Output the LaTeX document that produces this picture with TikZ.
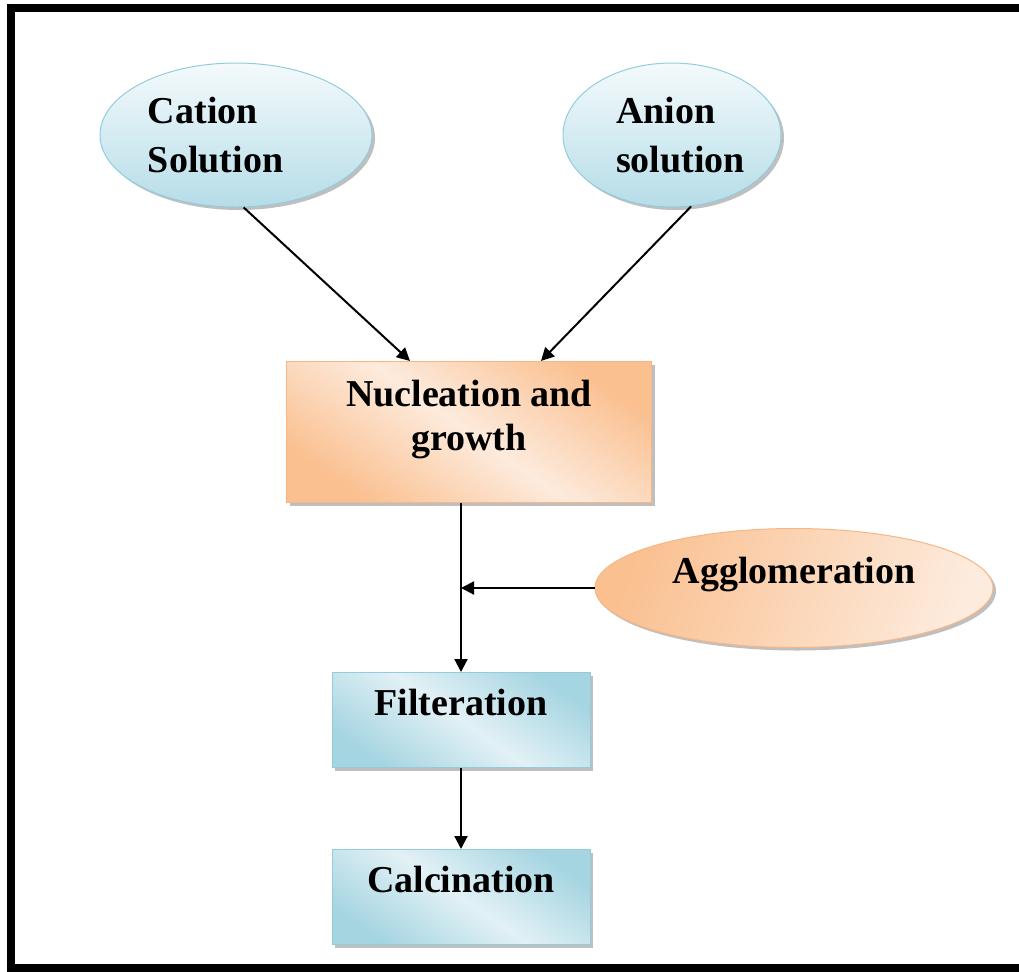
\documentclass[tikz,border=0pt]{standalone}
\usepackage{fontspec}
\setmainfont{Liberation Serif}
\usetikzlibrary{shapes.geometric, arrows.meta, shadows}

\definecolor{blueedge}{HTML}{93CDDD}
\definecolor{bluedark}{HTML}{B6DDE8}
\definecolor{bluelight}{HTML}{F4FAFC}
\definecolor{boxblue}{HTML}{A6D5E2}
\definecolor{boxbluelight}{HTML}{E2F1F5}
\definecolor{orangedark}{HTML}{FAC090}
\definecolor{orangelight}{HTML}{FDEBDD}
\definecolor{orangeedge}{HTML}{F6B685}

\tikzset{
    txt/.style={font=\bfseries\fontsize{19}{24.5}\selectfont, text=black},
    boxshadow/.style={drop shadow={shadow xshift=1.5pt, shadow yshift=-1.5pt, fill=black!45, opacity=.55}},
    solnode/.style={ellipse, draw=blueedge, line width=.5pt, top color=bluelight, bottom color=bluedark,
        inner sep=0pt, minimum height=72pt, align=left, txt, boxshadow},
    procbox/.style={rectangle, draw=blueedge, line width=.5pt, top color=boxblue, bottom color=boxblue,
        middle color=boxbluelight, shading angle=-35, minimum width=129pt, minimum height=47.5pt,
        txt, text height=13pt, text depth=18pt, boxshadow},
    growbox/.style={rectangle, draw=orangeedge, line width=.5pt, top color=orangedark, bottom color=orangedark,
        middle color=orangelight, shading angle=-35, minimum width=182.5pt, minimum height=70.5pt,
        align=center, txt, font=\bfseries\fontsize{19}{22}\selectfont, text depth=17pt, boxshadow},
    agglnode/.style={ellipse, draw=orangeedge, line width=.5pt, left color=orangedark, right color=orangelight,
        shading angle=70, inner sep=0pt, minimum width=199pt, minimum height=59.5pt,
        txt, text height=13pt, text depth=18pt, boxshadow},
    flowarrow/.style={-{Triangle[length=6.5pt, width=6.5pt]}, line width=1pt, black}
}

\begin{document}
\begin{tikzpicture}[x=0.5pt, y=-0.5pt]

    % Page and frame
    \useasboundingbox (0,0) rectangle (1019,971);
    \clip (0,0) rectangle (1019,971);
    \fill[white] (0,0) rectangle (1019,971);
    \draw[line width=4pt, black] (1040,8) -- (11,8) -- (11,968) -- (1040,968);

    % Solutions
    \node[solnode, minimum width=136pt, text width=88pt] (cation) at (236,135) {Cation\\Solution};
    \node[solnode, minimum width=109pt, text width=56pt] (anion)  at (672,135) {Anion\\solution};

    % Precipitation
    \node[growbox]  (nucleation)    at (469,432) {Nucleation and\\growth};
    \node[agglnode] (agglomeration) at (794,588) {Agglomeration};

    % Treatment
    \node[procbox] (filteration) at (461,720) {Filteration};
    \node[procbox] (calcination) at (461,897) {Calcination};

    % Arrows
    \draw[flowarrow] (cation.-84) -- ([xshift=-29.5pt]nucleation.north);
    \draw[flowarrow] (anion.-75)  -- ([xshift=36pt]nucleation.north);
    \draw[flowarrow] (nucleation.south -| filteration.north) -- (filteration.north);
    \coordinate (join) at (filteration.north |- agglomeration.west);
    \draw[flowarrow] (agglomeration.west) -- (join);
    \draw[flowarrow] (filteration) -- (calcination);

\end{tikzpicture}
\end{document}
